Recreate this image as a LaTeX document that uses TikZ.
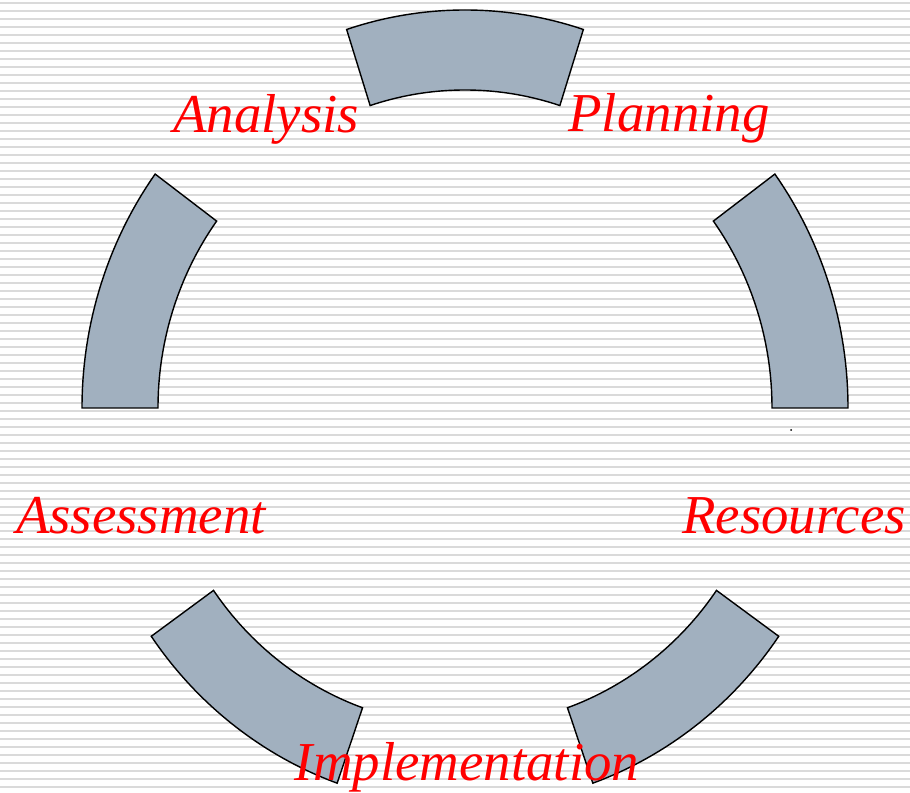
\documentclass[tikz,border=0pt]{standalone}
\usepackage{fontspec}
\setmainfont{Liberation Serif}
\definecolor{segfill}{RGB}{161,176,191}
\definecolor{stripegray}{RGB}{218,218,218}
\begin{document}
\begin{tikzpicture}[x=0.025cm,y=0.025cm,
        segment/.style={fill=segfill,draw=black,line width=1pt,line join=miter},
        phase/.style={text=red,font=\fontsize{39}{46}\selectfont\itshape,inner sep=0pt,anchor=base},
        stripe/.style={draw=stripegray,line width=1.3pt}]
        \useasboundingbox (0,0) rectangle (910,792);
        \fill[white] (0,0) rectangle (910,792);
        \foreach \k in {0,...,98} {
        \draw[stripe] (0,788.7-8*\k) -- (910,788.7-8*\k);
        }
        \coordinate (centre) at (465,384);
        \foreach \a/\b in {0/36,72/108,144/180,215/250.5,289.5/325} {
        \draw[segment,shift={(centre)}] (\a:383 and 398)
                arc[start angle=\a, end angle=\b, x radius=383, y radius=398]
                -- (\b:307 and 318)
                arc[start angle=\b, end angle=\a, x radius=307, y radius=318] -- cycle;
        }
        \fill[black] (791,362) circle (1);
        \node[phase] (analysis) at (266,659) {Analysis};
        \node[phase] (planning) at (669,660) {Planning};
        \node[phase] (assessment) at (141,259) {Assessment};
        \node[phase] (resources) at (794,259) {Resources};
        \node[phase] (implementation) at (467,12) {Implementation};
\end{tikzpicture}
\end{document}
